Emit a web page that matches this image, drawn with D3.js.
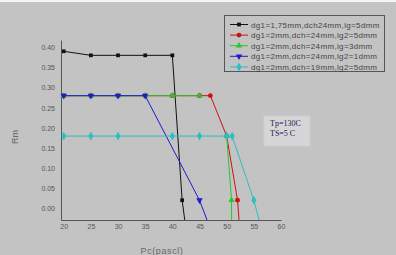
<!DOCTYPE html>
<html>
<head>
<meta charset="utf-8">
<script src="https://cdn.jsdelivr.net/npm/d3@7"></script>
<style>
  body { margin: 0; background: #c3c3c3; }
  svg { display: block; }
  .tick text { font-family: "Liberation Sans", Arial, sans-serif; fill: #555; }
</style>
</head>
<body>
<div id="chart"></div>
<script>
// Data (Pc in pascal, Rm)
var seriesNames = [
  "dg1=1,75mm,dch24mm,lg=5dmm",
  "dg1=2mm,dch=24mm,lg2=5dmm",
  "dg1=2mm,dch=24mm,lg=3dmm",
  "dg1=2mm,dch=24mm,lg2=1dmm",
  "dg1=2mm,dch=19mm,lg2=5dmm"
];
var blackPc = [20, 25, 30, 35, 40, 41.8, 42.5];
var blackRm = [0.39, 0.38, 0.38, 0.38, 0.38, 0.021, -0.05];
var redPc = [20, 25, 30, 35, 40, 45, 47, 50, 52, 52.4];
var redRm = [0.28, 0.28, 0.28, 0.28, 0.28, 0.28, 0.28, 0.18, 0.021, -0.05];
// null = gap in the green curve
var greenPc = [20, 25, 30, 35, 40, 45, null, 50, 50.9, 50.9];
var greenRm = [0.28, 0.28, 0.28, 0.28, 0.28, 0.28, null, 0.18, 0.021, -0.05];
var bluePc = [20, 25, 30, 35, 45, 47];
var blueRm = [0.28, 0.28, 0.28, 0.28, 0.021, -0.05];
var cyanPc = [20, 25, 30, 40, 45, 50, 51, 55, 56.4];
var cyanRm = [0.18, 0.18, 0.18, 0.18, 0.18, 0.18, 0.18, 0.021, -0.05];
var xTicks = [20, 25, 30, 35, 40, 45, 50, 55, 60];
var yTicks = [0, 0.05, 0.10, 0.15, 0.20, 0.25, 0.30, 0.35, 0.40];
var noteLines = ["Tp=130C", "TS=5 C"];

var series = [
  { name: seriesNames[0], x: blackPc, y: blackRm, color: "#111111", symbol: d3.symbolSquare, size: 14 },
  { name: seriesNames[1], x: redPc, y: redRm, color: "#cc1111", symbol: d3.symbolCircle, size: 18 },
  { name: seriesNames[2], x: greenPc, y: greenRm, color: "#2ec42e", symbol: d3.symbolTriangle, size: 18 },
  { name: seriesNames[3], x: bluePc, y: blueRm, color: "#1c1cc8", symbol: d3.symbolTriangle, size: 18, down: true },
  { name: seriesNames[4], x: cyanPc, y: cyanRm, color: "#2bbfbf", symbol: d3.symbolDiamond, size: 22 }
];

var svgWidth = 396, svgHeight = 255;

var svg = d3.select("#chart").append("svg")
  .attr("width", svgWidth)
  .attr("height", svgHeight);

svg.append("rect").attr("width", svgWidth).attr("height", svgHeight).attr("fill", "#c3c3c3");
svg.append("rect").attr("width", svgWidth).attr("height", 2).attr("fill", "#f4f4f4");

// Scales
var xScale = d3.scaleLinear().domain([19.5, 60]).range([61, 281]);
var yScale = d3.scaleLinear().domain([-0.028, 0.418]).range([220, 40]);

svg.append("clipPath").attr("id", "plotClip")
  .append("rect")
  .attr("x", 55).attr("y", 30)
  .attr("width", 235).attr("height", 190);

// Axes
var bottomAxis = d3.axisBottom(xScale).tickValues(xTicks).tickSize(0).tickPadding(4);
var leftAxis = d3.axisLeft(yScale).tickValues(yTicks).tickSize(0).tickPadding(6)
  .tickFormat(d3.format(".2f"));

var gx = svg.append("g").attr("transform", "translate(0,220)").call(bottomAxis);
var gy = svg.append("g").attr("transform", "translate(61,0)").call(leftAxis);
[gx, gy].forEach(function (g) {
  g.select(".domain").attr("stroke", "#555").attr("stroke-width", 1);
  g.selectAll("text").attr("font-size", "7px");
});

// Lines
var line = d3.line()
  .defined(function (d) { return d[0] !== null; })
  .x(function (d) { return xScale(d[0]); })
  .y(function (d) { return yScale(d[1]); });

var plot = svg.append("g").attr("clip-path", "url(#plotClip)");

series.forEach(function (s) {
  var pts = s.x.map(function (v, i) { return [v, s.y[i]]; });
  plot.append("path")
    .datum(pts)
    .attr("fill", "none")
    .attr("stroke", s.color)
    .attr("stroke-width", 1)
    .attr("d", line);
  plot.selectAll(null)
    .data(pts.filter(function (d) { return d[0] !== null; }))
    .enter()
    .append("path")
    .attr("d", d3.symbol().type(s.symbol).size(s.size))
    .attr("transform", function (d) {
      return "translate(" + xScale(d[0]) + "," + yScale(d[1]) + ")" + (s.down ? " rotate(180)" : "");
    })
    .attr("fill", s.color);
});

// Axis titles
svg.append("text")
  .attr("transform", "translate(18,137) rotate(-90)")
  .attr("text-anchor", "middle")
  .attr("font-family", "Liberation Sans, Arial, sans-serif")
  .attr("font-size", "9px")
  .attr("fill", "#666")
  .text("Rm");
svg.append("text")
  .attr("x", 162).attr("y", 254)
  .attr("text-anchor", "middle")
  .attr("font-family", "Liberation Sans, Arial, sans-serif")
  .attr("font-size", "9px")
  .attr("letter-spacing", "0.6px")
  .attr("fill", "#666")
  .text("Pc(pascl)");

// Legend
var legend = svg.append("g");
legend.append("rect")
  .attr("x", 224.5).attr("y", 15.5)
  .attr("width", 160).attr("height", 56)
  .attr("fill", "none")
  .attr("stroke", "#555");
series.forEach(function (s, i) {
  var ly = 24.5 + i * 10.6;
  legend.append("line")
    .attr("x1", 230).attr("x2", 248)
    .attr("y1", ly).attr("y2", ly)
    .attr("stroke", s.color);
  legend.append("path")
    .attr("d", d3.symbol().type(s.symbol).size(s.size))
    .attr("transform", "translate(239," + ly + ")" + (s.down ? " rotate(180)" : ""))
    .attr("fill", s.color);
  legend.append("text")
    .attr("x", 251).attr("y", ly + 3)
    .attr("font-family", "Liberation Sans, Arial, sans-serif")
    .attr("font-size", "8px")
    .attr("letter-spacing", "0.35px")
    .attr("fill", "#444")
    .text(s.name);
});

// Note box
var note = svg.append("g");
note.append("rect")
  .attr("x", 264).attr("y", 116)
  .attr("width", 46).attr("height", 30)
  .attr("fill", "#d6d6d6")
  .attr("stroke", "#cfcfcf");
note.selectAll("text")
  .data(noteLines)
  .enter()
  .append("text")
  .attr("x", 270)
  .attr("y", function (d, i) { return 126 + i * 9.5; })
  .attr("font-family", "Liberation Serif, Times New Roman, serif")
  .attr("font-size", "8px")
  .attr("fill", "#1a1a5a")
  .text(function (d) { return d; });
</script>
</body>
</html>
